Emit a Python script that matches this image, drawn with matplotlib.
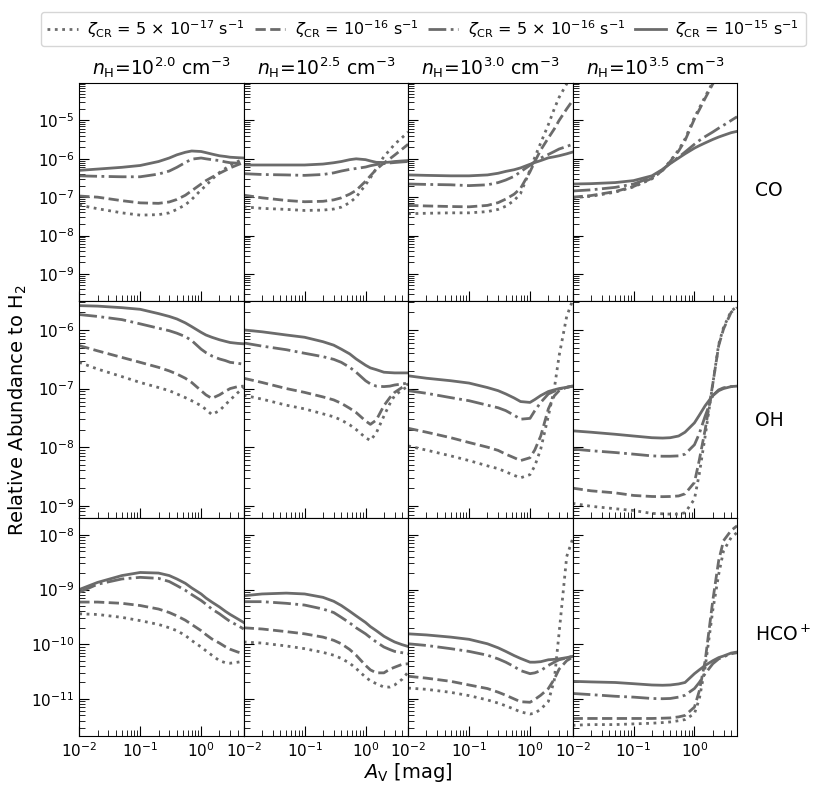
import matplotlib
matplotlib.use('Agg')
import matplotlib.pyplot as plt

# visual extinction grid (mag)
av = [0.01, 0.02, 0.05, 0.1, 0.2, 0.3, 0.4, 0.55, 0.7, 1.0, 1.2, 1.5, 2.0, 2.5, 3.0, 4.0, 5.0]

zeta_labels = [r'$\zeta_{\rm CR}$ = 5 $\times$ 10$^{-17}$ s$^{-1}$',
               r'$\zeta_{\rm CR}$ = 10$^{-16}$ s$^{-1}$',
               r'$\zeta_{\rm CR}$ = 5 $\times$ 10$^{-16}$ s$^{-1}$',
               r'$\zeta_{\rm CR}$ = 10$^{-15}$ s$^{-1}$']
density_titles = [r'$n_{\rm H}$=10$^{2.0}$ cm$^{-3}$',
                  r'$n_{\rm H}$=10$^{2.5}$ cm$^{-3}$',
                  r'$n_{\rm H}$=10$^{3.0}$ cm$^{-3}$',
                  r'$n_{\rm H}$=10$^{3.5}$ cm$^{-3}$']
species = ['CO', 'OH', r'HCO$^+$']

# each panel: [5e-17, 1e-16, 5e-16, 1e-15]
co_20 = [[6.2e-8, 5.0e-8, 3.9e-8, 3.4e-8, 3.5e-8, 3.9e-8, 4.8e-8, 6.3e-8, 8.7e-8, 1.55e-7, 2.0e-7, 2.9e-7, 4.4e-7, 5.6e-7, 6.8e-7, 8.5e-7, 1.0e-6],
         [1.07e-7, 1.0e-7, 8.1e-8, 7.1e-8, 6.9e-8, 7.5e-8, 8.7e-8, 1.12e-7, 1.47e-7, 2.2e-7, 2.7e-7, 3.3e-7, 4.2e-7, 5.0e-7, 5.8e-7, 7.0e-7, 8.0e-7],
         [3.6e-7, 3.5e-7, 3.4e-7, 3.4e-7, 4.0e-7, 4.8e-7, 6.0e-7, 8.0e-7, 9.8e-7, 1.05e-6, 1.0e-6, 9.5e-7, 9.0e-7, 8.3e-7, 7.9e-7, 7.7e-7, 7.7e-7],
         [5.0e-7, 5.4e-7, 6.0e-7, 6.7e-7, 8.5e-7, 1.05e-6, 1.27e-6, 1.48e-6, 1.6e-6, 1.55e-6, 1.45e-6, 1.33e-6, 1.2e-6, 1.15e-6, 1.1e-6, 1.07e-6, 1.05e-6]]
co_25 = [[5.6e-8, 5.1e-8, 4.8e-8, 4.5e-8, 4.6e-8, 4.9e-8, 5.5e-8, 7.2e-8, 1.0e-7, 2.1e-7, 3.2e-7, 5.6e-7, 1.15e-6, 1.7e-6, 2.4e-6, 3.6e-6, 5.0e-6],
         [1.13e-7, 9.6e-8, 8.2e-8, 7.6e-8, 7.8e-8, 8.5e-8, 9.6e-8, 1.2e-7, 1.5e-7, 2.6e-7, 3.6e-7, 5.3e-7, 7.8e-7, 1.0e-6, 1.25e-6, 1.8e-6, 2.4e-6],
         [4.1e-7, 3.9e-7, 3.8e-7, 3.7e-7, 3.9e-7, 4.3e-7, 4.8e-7, 5.3e-7, 5.6e-7, 6.1e-7, 6.6e-7, 7.1e-7, 7.5e-7, 7.8e-7, 8.0e-7, 8.3e-7, 8.5e-7],
         [6.9e-7, 6.9e-7, 6.9e-7, 6.9e-7, 7.3e-7, 7.9e-7, 8.5e-7, 9.5e-7, 1.0e-6, 9.5e-7, 8.8e-7, 8.1e-7, 8.0e-7, 8.2e-7, 8.5e-7, 8.8e-7, 9.0e-7]]
co_30 = [[3.7e-8, 3.8e-8, 3.9e-8, 3.9e-8, 4.2e-8, 4.8e-8, 5.8e-8, 8.2e-8, 1.25e-7, 5.1e-7, 1.1e-6, 2.6e-6, 7.8e-6, 2.0e-5, 4.0e-5, 9.0e-5, 2.0e-4],
         [6.1e-8, 5.9e-8, 5.7e-8, 5.6e-8, 6.1e-8, 7.2e-8, 8.9e-8, 1.2e-7, 1.7e-7, 4.6e-7, 8.5e-7, 1.7e-6, 3.5e-6, 6.0e-6, 1.0e-5, 2.0e-5, 3.3e-5],
         [2.2e-7, 2.15e-7, 2.1e-7, 2.0e-7, 2.1e-7, 2.4e-7, 2.8e-7, 3.5e-7, 4.6e-7, 6.8e-7, 8.5e-7, 1.05e-6, 1.3e-6, 1.55e-6, 1.8e-6, 2.1e-6, 2.4e-6],
         [3.8e-7, 3.7e-7, 3.6e-7, 3.6e-7, 3.8e-7, 4.2e-7, 4.7e-7, 5.2e-7, 5.8e-7, 7.2e-7, 8.0e-7, 9.0e-7, 1.06e-6, 1.13e-6, 1.2e-6, 1.35e-6, 1.5e-6]]
co_35 = [[9.8e-8, 1.05e-7, 1.35e-7, 1.85e-7, 3.0e-7, 5.0e-7, 8.8e-7, 1.7e-6, 3.3e-6, 1.2e-5, 2.1e-5, 4.2e-5, 1.0e-4, 1.5e-4, 2.0e-4, 2.5e-4, 2.8e-4],
         [1.0e-7, 1.1e-7, 1.4e-7, 1.9e-7, 3.1e-7, 5.0e-7, 8.5e-7, 1.6e-6, 3.0e-6, 1.1e-5, 1.9e-5, 3.8e-5, 9.0e-5, 1.5e-4, 2.0e-4, 2.5e-4, 2.8e-4],
         [1.45e-7, 1.55e-7, 1.8e-7, 2.2e-7, 3.3e-7, 5.2e-7, 7.8e-7, 1.1e-6, 1.5e-6, 2.4e-6, 3.0e-6, 3.8e-6, 5.0e-6, 6.3e-6, 7.5e-6, 1.0e-5, 1.25e-5],
         [2.2e-7, 2.25e-7, 2.4e-7, 2.7e-7, 3.6e-7, 5.3e-7, 7.5e-7, 1.05e-6, 1.35e-6, 1.9e-6, 2.2e-6, 2.6e-6, 3.2e-6, 3.7e-6, 4.1e-6, 4.8e-6, 5.2e-6]]

oh_20 = [[2.8e-7, 2.15e-7, 1.6e-7, 1.27e-7, 1.04e-7, 9.2e-8, 8.1e-8, 7.0e-8, 6.2e-8, 5.1e-8, 4.4e-8, 3.6e-8, 4.2e-8, 5.3e-8, 6.4e-8, 8.5e-8, 1.04e-7],
         [5.4e-7, 4.4e-7, 3.4e-7, 2.8e-7, 2.3e-7, 2.0e-7, 1.77e-7, 1.5e-7, 1.27e-7, 9.2e-8, 7.8e-8, 6.8e-8, 7.8e-8, 9.0e-8, 1.0e-7, 1.08e-7, 1.1e-7],
         [1.83e-6, 1.7e-6, 1.5e-6, 1.27e-6, 1.07e-6, 9.7e-7, 8.8e-7, 7.7e-7, 6.6e-7, 4.7e-7, 4.1e-7, 3.6e-7, 3.2e-7, 3.0e-7, 2.8e-7, 2.7e-7, 2.6e-7],
         [2.6e-6, 2.55e-6, 2.4e-6, 2.25e-6, 1.9e-6, 1.7e-6, 1.54e-6, 1.32e-6, 1.14e-6, 9.1e-7, 8.2e-7, 7.5e-7, 6.8e-7, 6.4e-7, 6.1e-7, 5.9e-7, 5.8e-7]]
oh_25 = [[7.7e-8, 6.6e-8, 5.2e-8, 4.5e-8, 3.7e-8, 3.3e-8, 2.9e-8, 2.4e-8, 2.0e-8, 1.45e-8, 1.3e-8, 1.75e-8, 3.4e-8, 5.5e-8, 7.6e-8, 9.5e-8, 1.1e-7],
         [1.5e-7, 1.27e-7, 1.0e-7, 8.6e-8, 7.2e-8, 6.4e-8, 5.6e-8, 4.6e-8, 3.9e-8, 2.8e-8, 2.45e-8, 2.9e-8, 5.1e-8, 7.0e-8, 8.6e-8, 1.05e-7, 1.2e-7],
         [6.0e-7, 5.3e-7, 4.6e-7, 4.0e-7, 3.5e-7, 3.15e-7, 2.8e-7, 2.3e-7, 1.9e-7, 1.36e-7, 1.2e-7, 1.1e-7, 1.08e-7, 1.1e-7, 1.15e-7, 1.2e-7, 1.24e-7],
         [1.0e-6, 9.3e-7, 8.2e-7, 7.5e-7, 6.3e-7, 5.5e-7, 4.7e-7, 3.9e-7, 3.2e-7, 2.5e-7, 2.25e-7, 2.1e-7, 1.9e-7, 1.87e-7, 1.85e-7, 1.85e-7, 1.85e-7]]
oh_30 = [[1.05e-8, 8.9e-9, 7.1e-9, 5.9e-9, 4.8e-9, 4.3e-9, 3.8e-9, 3.3e-9, 3.0e-9, 3.4e-9, 4.8e-9, 9.3e-9, 3.4e-8, 9.8e-8, 3.6e-7, 1.7e-6, 3.2e-6],
         [2.1e-8, 1.8e-8, 1.45e-8, 1.2e-8, 1.0e-8, 8.8e-9, 7.6e-9, 6.6e-9, 5.9e-9, 6.6e-9, 9.0e-9, 1.55e-8, 4.5e-8, 7.5e-8, 9.2e-8, 1.05e-7, 1.1e-7],
         [9.2e-8, 8.3e-8, 7.0e-8, 6.2e-8, 5.2e-8, 4.7e-8, 4.2e-8, 3.5e-8, 3.0e-8, 3.1e-8, 4.2e-8, 5.8e-8, 8.1e-8, 9.0e-8, 9.8e-8, 1.05e-7, 1.1e-7],
         [1.65e-7, 1.5e-7, 1.36e-7, 1.24e-7, 1.04e-7, 9.2e-8, 8.1e-8, 6.9e-8, 6.0e-8, 5.8e-8, 6.5e-8, 7.6e-8, 8.9e-8, 9.5e-8, 1.0e-7, 1.05e-7, 1.1e-7]]
oh_35 = [[1.1e-9, 9.8e-10, 8.9e-10, 8.3e-10, 7.4e-10, 7.3e-10, 7.2e-10, 7.2e-10, 7.6e-10, 1.3e-9, 3.5e-9, 1.55e-8, 1.2e-7, 5.7e-7, 1.1e-6, 2.1e-6, 2.5e-6],
         [2.0e-9, 1.8e-9, 1.66e-9, 1.5e-9, 1.44e-9, 1.43e-9, 1.44e-9, 1.47e-9, 1.6e-9, 2.5e-9, 6.0e-9, 2.0e-8, 1.2e-7, 5.4e-7, 1.04e-6, 2.0e-6, 2.4e-6],
         [9.3e-9, 8.7e-9, 8.1e-9, 7.6e-9, 7.1e-9, 7.0e-9, 7.0e-9, 7.1e-9, 7.6e-9, 1.1e-8, 1.7e-8, 3.4e-8, 7.6e-8, 9.5e-8, 1.03e-7, 1.08e-7, 1.1e-7],
         [1.9e-8, 1.8e-8, 1.66e-8, 1.55e-8, 1.45e-8, 1.43e-8, 1.45e-8, 1.55e-8, 1.8e-8, 2.6e-8, 3.5e-8, 5.1e-8, 7.6e-8, 9.2e-8, 1.0e-7, 1.08e-7, 1.1e-7]]

hco_20 = [[3.6e-10, 3.5e-10, 3.1e-10, 2.7e-10, 2.3e-10, 2.0e-10, 1.77e-10, 1.45e-10, 1.17e-10, 8.9e-11, 7.6e-11, 6.3e-11, 5.0e-11, 4.6e-11, 4.5e-11, 4.7e-11, 4.9e-11],
          [5.9e-10, 5.9e-10, 5.6e-10, 5.1e-10, 4.4e-10, 3.8e-10, 3.3e-10, 2.75e-10, 2.3e-10, 1.77e-10, 1.5e-10, 1.25e-10, 1.05e-10, 9.0e-11, 8.1e-11, 7.2e-11, 6.7e-11],
          [8.9e-10, 1.25e-9, 1.56e-9, 1.67e-9, 1.6e-9, 1.4e-9, 1.18e-9, 9.7e-10, 8.1e-10, 6.3e-10, 5.4e-10, 4.4e-10, 3.6e-10, 3.0e-10, 2.6e-10, 2.2e-10, 1.9e-10],
          [1.0e-9, 1.35e-9, 1.8e-9, 2.05e-9, 2.0e-9, 1.8e-9, 1.56e-9, 1.3e-9, 1.07e-9, 8.3e-10, 7.0e-10, 5.9e-10, 4.8e-10, 4.0e-10, 3.5e-10, 2.9e-10, 2.5e-10]]
hco_25 = [[1.1e-10, 1.05e-10, 9.3e-11, 8.3e-11, 7.1e-11, 6.3e-11, 5.5e-11, 4.5e-11, 3.6e-11, 2.5e-11, 2.15e-11, 1.9e-11, 1.65e-11, 1.65e-11, 1.8e-11, 2.3e-11, 3.1e-11],
          [2.0e-10, 1.9e-10, 1.7e-10, 1.55e-10, 1.35e-10, 1.18e-10, 1.02e-10, 8.0e-11, 6.3e-11, 4.1e-11, 3.4e-11, 3.0e-11, 3.0e-11, 3.5e-11, 3.8e-11, 4.3e-11, 4.4e-11],
          [6.0e-10, 6.0e-10, 5.6e-10, 5.2e-10, 4.4e-10, 3.8e-10, 3.1e-10, 2.45e-10, 2.0e-10, 1.55e-10, 1.32e-10, 1.1e-10, 8.9e-11, 8.0e-11, 7.4e-11, 7.0e-11, 6.7e-11],
          [7.7e-10, 8.3e-10, 8.6e-10, 8.3e-10, 7.2e-10, 6.1e-10, 5.1e-10, 4.0e-10, 3.3e-10, 2.5e-10, 2.1e-10, 1.77e-10, 1.4e-10, 1.22e-10, 1.1e-10, 9.8e-11, 9.1e-11]]
hco_30 = [[1.58e-11, 1.5e-11, 1.32e-11, 1.15e-11, 9.6e-12, 8.4e-12, 7.5e-12, 6.5e-12, 5.8e-12, 5.3e-12, 5.5e-12, 6.5e-12, 9.0e-12, 2.2e-11, 1.6e-10, 4.0e-9, 8.4e-9],
          [2.6e-11, 2.4e-11, 2.1e-11, 1.8e-11, 1.55e-11, 1.33e-11, 1.17e-11, 1.0e-11, 8.9e-12, 8.7e-12, 9.8e-12, 1.17e-11, 1.55e-11, 2.3e-11, 3.5e-11, 5.0e-11, 5.8e-11],
          [1.02e-10, 9.5e-11, 8.3e-11, 7.4e-11, 6.3e-11, 5.4e-11, 4.7e-11, 3.9e-11, 3.3e-11, 2.9e-11, 3.0e-11, 3.3e-11, 4.1e-11, 4.7e-11, 5.2e-11, 5.6e-11, 6.0e-11],
          [1.55e-10, 1.48e-10, 1.35e-10, 1.23e-10, 1.02e-10, 8.6e-11, 7.4e-11, 6.2e-11, 5.5e-11, 4.7e-11, 4.7e-11, 4.8e-11, 5.2e-11, 5.3e-11, 5.4e-11, 5.7e-11, 6.0e-11]]
hco_35 = [[3.3e-12, 3.4e-12, 3.4e-12, 3.5e-12, 3.6e-12, 3.7e-12, 3.8e-12, 4.0e-12, 4.2e-12, 5.4e-12, 1.0e-11, 3.8e-11, 4.2e-10, 1.9e-9, 5.1e-9, 8.9e-9, 1.1e-8],
          [4.4e-12, 4.4e-12, 4.4e-12, 4.4e-12, 4.4e-12, 4.45e-12, 4.5e-12, 4.7e-12, 5.0e-12, 7.1e-12, 1.4e-11, 5.0e-11, 6.3e-10, 3.4e-9, 7.8e-9, 1.2e-8, 1.46e-8],
          [1.26e-11, 1.2e-11, 1.12e-11, 1.08e-11, 1.02e-11, 1.01e-11, 1.02e-11, 1.08e-11, 1.17e-11, 1.55e-11, 2.0e-11, 2.9e-11, 4.4e-11, 5.4e-11, 5.9e-11, 6.7e-11, 7.0e-11],
          [2.1e-11, 2.05e-11, 2.0e-11, 1.9e-11, 1.8e-11, 1.78e-11, 1.8e-11, 1.88e-11, 2.0e-11, 2.9e-11, 3.4e-11, 4.1e-11, 5.0e-11, 5.7e-11, 6.1e-11, 6.9e-11, 7.2e-11]]

panels = [[co_20, co_25, co_30, co_35],
          [oh_20, oh_25, oh_30, oh_35],
          [hco_20, hco_25, hco_30, hco_35]]
row_ylims = [(2.0e-10, 9.5e-5), (6.1e-10, 3.16e-6), (2.1e-12, 2.0e-8)]
row_label_y = [190, 420, 635]

styles = [':', '--', '-.', '-']
color = '#6b6b6b'

fig, axes = plt.subplots(3, 4, figsize=(8.3, 7.94), dpi=100, sharex=True, sharey='row')
plt.subplots_adjust(left=0.0955, right=0.888, bottom=0.073, top=0.8955, wspace=0, hspace=0)

for i in range(3):
    for j in range(4):
        ax = axes[i, j]
        for k in range(4):
            ax.plot(av, panels[i][j][k], linestyle=styles[k], color=color, lw=2,
                    label=zeta_labels[k])
        ax.set_xscale('log')
        ax.set_yscale('log')
        ax.set_xlim(1e-2, 5.0)
        ax.set_ylim(row_ylims[i])
        ax.tick_params(which='both', direction='in', top=False, right=False, labelsize=11)
        ax.tick_params(which='major', length=7)
        ax.tick_params(which='minor', length=4)
        if i == 0:
            ax.set_title(density_titles[j], fontsize=13.5)
    fig.text(755 / 830, 1 - row_label_y[i] / 794, species[i], fontsize=13.5, va='center', ha='left')

handles, labels = axes[0, 0].get_legend_handles_labels()
fig.legend(handles, labels, loc='upper center', ncol=4, bbox_to_anchor=(0.51, 0.995),
           fontsize=11.5, handlelength=1.9, columnspacing=0.6, handletextpad=0.6)

fig.text(18 / 830, 1 - 410 / 794, r'Relative Abundance to H$_2$', rotation=90,
         fontsize=14, va='center', ha='center')
fig.text(408 / 830, 1 - 773 / 794, r'$A_{\rm V}$ [mag]', fontsize=14, va='center', ha='center')

plt.savefig('out.png', dpi=100)
